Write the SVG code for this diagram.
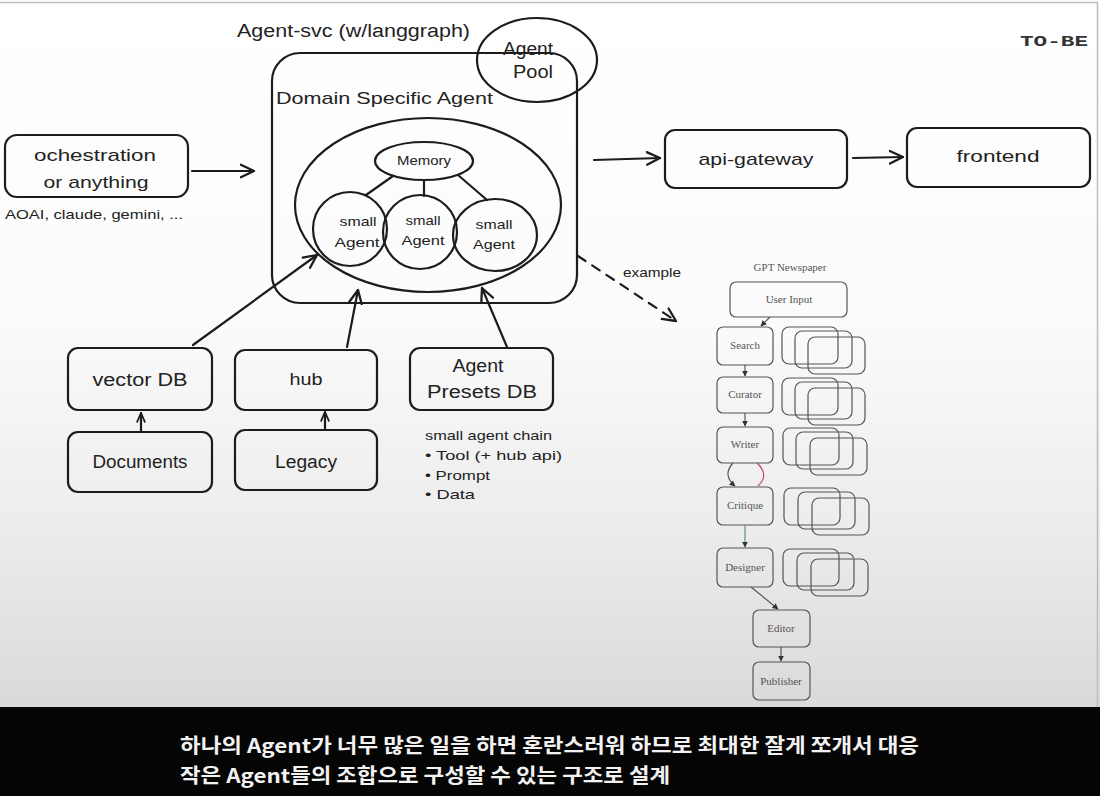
<svg xmlns="http://www.w3.org/2000/svg" width="1100" height="796" viewBox="0 0 1100 796">
<defs>
<linearGradient id="bg" x1="0" y1="0" x2="0" y2="1">
<stop offset="0" stop-color="#ffffff"/>
<stop offset="0.45" stop-color="#fbfbfb"/>
<stop offset="0.75" stop-color="#ececec"/>
<stop offset="1" stop-color="#d9d9d9"/>
</linearGradient>
<marker id="open" viewBox="0 0 14 14" markerWidth="16" markerHeight="16" markerUnits="userSpaceOnUse" refX="12.5" refY="7" orient="auto">
<path d="M1,1.5 L12.5,7 L1,12.5" fill="none" stroke="#1c1c1c" stroke-width="2" stroke-linecap="round" stroke-linejoin="round"/>
</marker>
<marker id="small" viewBox="0 0 10 10" markerWidth="11" markerHeight="11" markerUnits="userSpaceOnUse" refX="9" refY="5" orient="auto">
<path d="M1,1.5 L9,5 L1,8.5" fill="none" stroke="#1c1c1c" stroke-width="1.6" stroke-linecap="round"/>
</marker>
<marker id="tiny" viewBox="0 0 10 10" markerWidth="6" markerHeight="6" markerUnits="userSpaceOnUse" refX="9" refY="5" orient="auto">
<path d="M0,0 L10,5 L0,10 Z" fill="#333"/>
</marker>
<style>
.ln{stroke:#1c1c1c;stroke-width:2.2;fill:none;stroke-linecap:round;stroke-linejoin:round}
.hw{font-family:"Liberation Sans","DejaVu Sans",sans-serif;fill:#222}
.mid{text-anchor:middle}
.gp{stroke:#555;stroke-width:1.2;fill:none}
.gt{font-family:"Liberation Serif","DejaVu Serif",serif;font-size:11px;fill:#555;text-anchor:middle}
.sub{font-family:"Noto Sans CJK KR","Noto Sans",sans-serif;font-weight:bold;font-size:20px;fill:#f2f2f2}
</style>
</defs>

<rect x="0" y="0" width="1100" height="708" fill="url(#bg)"/>
<path d="M0,2.5 H1097.5 V708" fill="none" stroke="#bdbdbd" stroke-width="1.5"/>
<rect x="0" y="707" width="1100" height="89" fill="#050505"/>

<g id="agent-svc">
<text class="hw" x="237" y="37" font-size="18" textLength="233" lengthAdjust="spacingAndGlyphs">Agent-svc (w/langgraph)</text>
<rect class="ln" x="272" y="53" width="305" height="250" rx="28"/>
<text class="hw" x="276" y="104" font-size="17" textLength="217" lengthAdjust="spacingAndGlyphs">Domain Specific  Agent</text>
</g>

<g id="agent-pool">
<ellipse class="ln" cx="537" cy="60" rx="60" ry="42" fill="#ffffff"/>
<text class="hw mid" x="528" y="55" font-size="18" textLength="50" lengthAdjust="spacingAndGlyphs">Agent</text>
<text class="hw mid" x="533" y="78" font-size="18" textLength="40" lengthAdjust="spacingAndGlyphs">Pool</text>
</g>

<g id="domain-agent">
<ellipse class="ln" cx="428" cy="205" rx="133" ry="87"/>
</g>

<g id="memory">
<ellipse class="ln" cx="424" cy="161" rx="49" ry="19"/>
<text class="hw mid" x="424" y="165" font-size="13" textLength="54" lengthAdjust="spacingAndGlyphs">Memory</text>
</g>

<g id="small-agent-1">
<circle class="ln" cx="350" cy="229" r="37"/>
<text class="hw mid" x="358" y="226" font-size="13" textLength="37" lengthAdjust="spacingAndGlyphs">small</text>
<text class="hw mid" x="357" y="247" font-size="13" textLength="45" lengthAdjust="spacingAndGlyphs">Agent</text>
</g>
<g id="small-agent-2">
<circle class="ln" cx="420" cy="232" r="37"/>
<text class="hw mid" x="423" y="225" font-size="13" textLength="35" lengthAdjust="spacingAndGlyphs">small</text>
<text class="hw mid" x="423" y="245" font-size="13" textLength="43" lengthAdjust="spacingAndGlyphs">Agent</text>
</g>
<g id="small-agent-3">
<ellipse class="ln" cx="495" cy="235" rx="42" ry="36"/>
<text class="hw mid" x="494" y="229" font-size="13" textLength="37" lengthAdjust="spacingAndGlyphs">small</text>
<text class="hw mid" x="494" y="249" font-size="13" textLength="42" lengthAdjust="spacingAndGlyphs">Agent</text>
</g>

<g id="orchestration">
<rect class="ln" x="5" y="135" width="183" height="62" rx="12"/>
<text class="hw mid" x="95" y="161" font-size="17" textLength="122" lengthAdjust="spacingAndGlyphs">ochestration</text>
<text class="hw mid" x="96" y="188" font-size="17" textLength="105" lengthAdjust="spacingAndGlyphs">or anything</text>
<text class="hw" x="5" y="219" font-size="13" textLength="178" lengthAdjust="spacingAndGlyphs">AOAI, claude, gemini, ...</text>
</g>

<g id="api-gateway">
<rect class="ln" x="665" y="130" width="182" height="58" rx="10"/>
<text class="hw mid" x="756" y="165" font-size="17" textLength="115" lengthAdjust="spacingAndGlyphs">api-gateway</text>
</g>

<g id="frontend">
<rect class="ln" x="907" y="128" width="183" height="59" rx="10"/>
<text class="hw mid" x="998" y="162" font-size="17" textLength="83" lengthAdjust="spacingAndGlyphs">frontend</text>
</g>

<g id="to-be">
<text x="1020" y="46" font-family="Liberation Mono, DejaVu Sans Mono, monospace" font-weight="bold" font-size="15" fill="#333" textLength="68" lengthAdjust="spacingAndGlyphs">TO-BE</text>
</g>

<g id="vector-db">
<rect class="ln" x="68" y="348" width="144" height="62" rx="10"/>
<text class="hw mid" x="140" y="386" font-size="18" textLength="95" lengthAdjust="spacingAndGlyphs">vector DB</text>
</g>
<g id="hub">
<rect class="ln" x="235" y="350" width="142" height="60" rx="10"/>
<text class="hw mid" x="306" y="385" font-size="16" textLength="33" lengthAdjust="spacingAndGlyphs">hub</text>
</g>
<g id="agent-presets-db">
<rect class="ln" x="410" y="348" width="143" height="62" rx="10"/>
<text class="hw mid" x="478" y="372" font-size="18" textLength="51" lengthAdjust="spacingAndGlyphs">Agent</text>
<text class="hw mid" x="482" y="398" font-size="18" textLength="110" lengthAdjust="spacingAndGlyphs">Presets DB</text>
<text class="hw" x="425" y="440" font-size="13" textLength="127" lengthAdjust="spacingAndGlyphs">small agent chain</text>
<text class="hw" x="425" y="460" font-size="13" textLength="137" lengthAdjust="spacingAndGlyphs">• Tool (+ hub api)</text>
<text class="hw" x="425" y="480" font-size="13" textLength="65" lengthAdjust="spacingAndGlyphs">• Prompt</text>
<text class="hw" x="425" y="499" font-size="13" textLength="50" lengthAdjust="spacingAndGlyphs">• Data</text>
</g>
<g id="documents">
<rect class="ln" x="68" y="432" width="144" height="60" rx="10"/>
<text class="hw mid" x="140" y="468" font-size="18" textLength="95" lengthAdjust="spacingAndGlyphs">Documents</text>
</g>
<g id="legacy">
<rect class="ln" x="235" y="430" width="142" height="60" rx="10"/>
<text class="hw mid" x="306" y="468" font-size="18" textLength="62" lengthAdjust="spacingAndGlyphs">Legacy</text>
</g>

<g id="example-label">
<text class="hw" x="623" y="277" font-size="13" textLength="58" lengthAdjust="spacingAndGlyphs">example</text>
</g>

<g id="gpt-newspaper">
<text class="gt" x="790" y="271" font-size="10">GPT Newspaper</text>
<g id="gpt-user-input"><rect class="gp" x="730" y="282" width="117" height="35" rx="6"/><text class="gt" x="789" y="303">User Input</text></g>
<g id="gpt-search"><rect class="gp" x="717" y="327" width="56" height="38" rx="6"/><text class="gt" x="745" y="349">Search</text></g>
<g id="gpt-curator"><rect class="gp" x="717" y="377" width="56" height="36" rx="6"/><text class="gt" x="745" y="398">Curator</text></g>
<g id="gpt-writer"><rect class="gp" x="717" y="427" width="56" height="36" rx="6"/><text class="gt" x="745" y="448">Writer</text></g>
<g id="gpt-critique"><rect class="gp" x="717" y="487" width="56" height="38" rx="6"/><text class="gt" x="745" y="509">Critique</text></g>
<g id="gpt-designer"><rect class="gp" x="717" y="548" width="56" height="39" rx="6"/><text class="gt" x="745" y="571">Designer</text></g>
<g id="gpt-editor"><rect class="gp" x="753" y="610" width="57" height="37" rx="6"/><text class="gt" x="781" y="632">Editor</text></g>
<g id="gpt-publisher"><rect class="gp" x="753" y="662" width="57" height="38" rx="6"/><text class="gt" x="781" y="685">Publisher</text></g>
<g id="gpt-stacks">
<rect class="gp" x="782" y="327" width="56" height="37" rx="7"/><rect class="gp" x="795" y="331" width="57" height="37" rx="7"/><rect class="gp" x="808" y="337" width="57" height="37" rx="7"/>
<rect class="gp" x="782" y="378" width="56" height="37" rx="7"/><rect class="gp" x="795" y="382" width="57" height="37" rx="7"/><rect class="gp" x="808" y="388" width="57" height="37" rx="7"/>
<rect class="gp" x="783" y="428" width="56" height="37" rx="7"/><rect class="gp" x="796" y="432" width="57" height="37" rx="7"/><rect class="gp" x="810" y="438" width="57" height="37" rx="7"/>
<rect class="gp" x="784" y="488" width="56" height="37" rx="7"/><rect class="gp" x="798" y="492" width="57" height="37" rx="7"/><rect class="gp" x="812" y="498" width="57" height="37" rx="7"/>
<rect class="gp" x="783" y="549" width="56" height="37" rx="7"/><rect class="gp" x="797" y="553" width="57" height="37" rx="7"/><rect class="gp" x="811" y="559" width="57" height="37" rx="7"/>
</g>
</g>

<g id="connectors">
<line class="ln" x1="393" y1="176" x2="366" y2="195"/>
<line class="ln" x1="424" y1="180" x2="424" y2="196"/>
<line class="ln" x1="458" y1="175" x2="487" y2="200"/>
<line class="ln" x1="192" y1="171" x2="254" y2="171" marker-end="url(#open)"/>
<line class="ln" x1="594" y1="160" x2="660" y2="158" marker-end="url(#open)"/>
<line class="ln" x1="853" y1="158" x2="903" y2="157" marker-end="url(#open)"/>
<line class="ln" x1="193" y1="345" x2="317" y2="255" marker-end="url(#open)"/>
<line class="ln" x1="347" y1="347" x2="358" y2="290" marker-end="url(#open)"/>
<line class="ln" x1="507" y1="347" x2="482" y2="288" marker-end="url(#open)"/>
<line class="ln" x1="141" y1="431" x2="141" y2="413" marker-end="url(#small)"/>
<line class="ln" x1="325" y1="429" x2="325" y2="412" marker-end="url(#small)"/>
<line class="ln" x1="578" y1="256" x2="676" y2="321" stroke-dasharray="9 8" marker-end="url(#open)"/>
<line class="gp" x1="770" y1="317" x2="761" y2="326" marker-end="url(#tiny)"/>
<line class="gp" x1="745" y1="365" x2="745" y2="376" marker-end="url(#tiny)"/>
<line class="gp" x1="745" y1="413" x2="745" y2="426" marker-end="url(#tiny)"/>
<path class="gp" d="M733,463 Q722,475 735,486" marker-end="url(#tiny)"/>
<path d="M757,463 Q770,475 758,486" fill="none" stroke="#c0485a" stroke-width="1.2"/>
<line x1="745" y1="525" x2="745" y2="547" stroke="#5a9a6a" stroke-width="1.2" marker-end="url(#tiny)"/>
<line class="gp" x1="751" y1="587" x2="778" y2="609" marker-end="url(#tiny)"/>
<line class="gp" x1="781" y1="647" x2="781" y2="661" marker-end="url(#tiny)"/>
</g>

<g id="subtitle">
<text class="sub" x="180" y="753" textLength="739" lengthAdjust="spacingAndGlyphs">하나의 Agent가 너무 많은 일을 하면 혼란스러워 하므로 최대한 잘게 쪼개서 대응</text>
<text class="sub" x="180" y="783" textLength="490" lengthAdjust="spacingAndGlyphs">작은 Agent들의 조합으로 구성할 수 있는 구조로 설계</text>
</g>
</svg>
